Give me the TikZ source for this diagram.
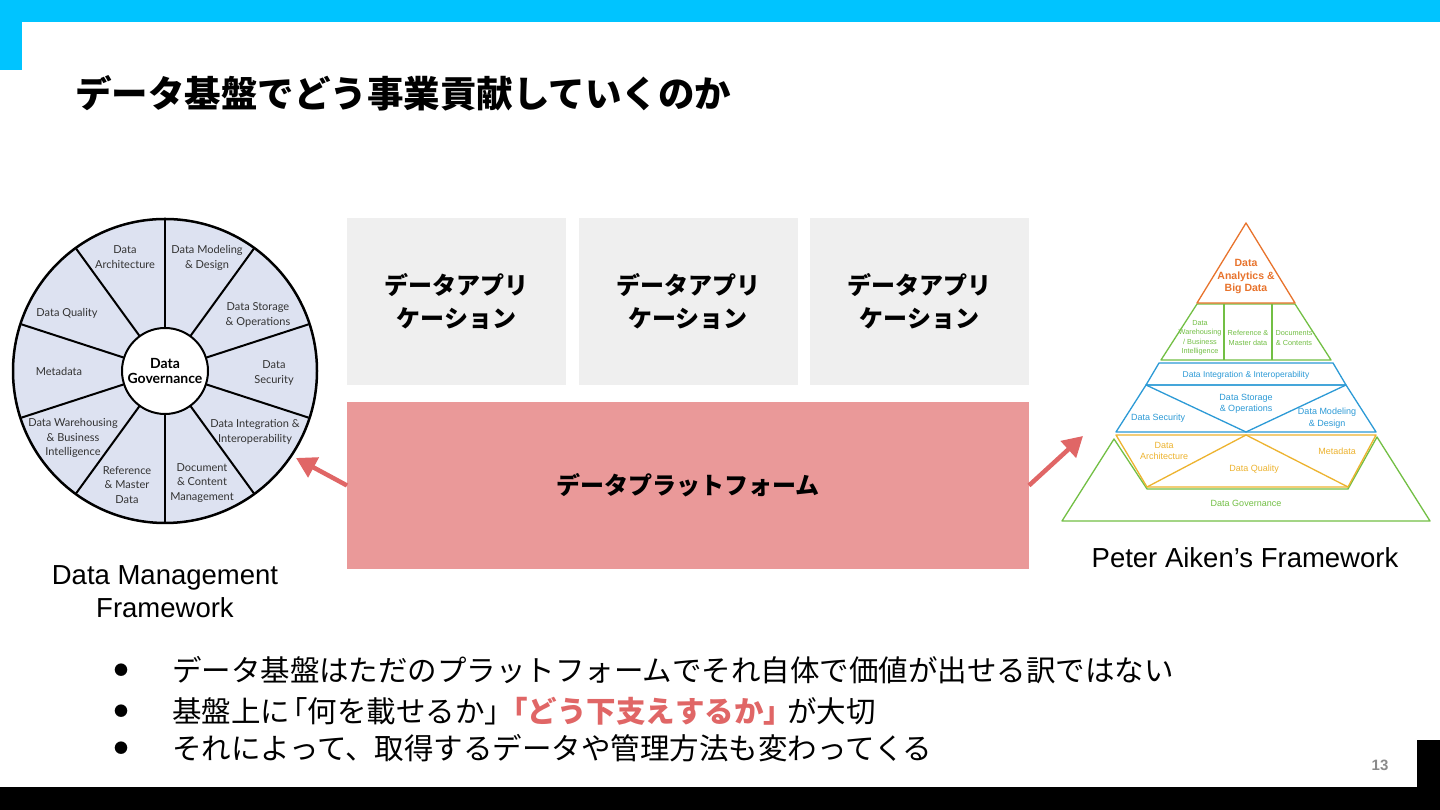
\documentclass[tikz,border=0pt]{standalone}
\usepackage{fontspec}
\setmainfont{Liberation Sans}
\newfontfamily\jpfont{Noto Sans CJK JP}
\newfontfamily\gillfont{Lato}
\usepackage{xcolor}
\usepackage{tikz}
\usetikzlibrary{arrows.meta,positioning,calc}
\definecolor{barcyan}{HTML}{00C4FF}
\definecolor{appgray}{HTML}{EFEFEF}
\definecolor{platpink}{HTML}{EA9999}
\definecolor{arrowred}{HTML}{E06666}
\definecolor{wheelfill}{HTML}{DDE2F1}
\definecolor{wheelink}{HTML}{333333}
\definecolor{pyrorange}{HTML}{E8732C}
\definecolor{pyrgreen}{HTML}{72BF44}
\definecolor{pyrblue}{HTML}{2C9AD6}
\definecolor{pyryellow}{HTML}{EDB32F}
\definecolor{pagegray}{HTML}{8A8A8A}
\tikzset{
    appbox/.style={
        rectangle,
        fill=appgray,
        inner sep=0pt,
        outer sep=0pt,
        align=center,
        minimum width=219pt,
        minimum height=167pt,
        font=\jpfont\bfseries\fontsize{24}{33}\selectfont
    },
    platbox/.style={appbox, fill=platpink, minimum width=682pt},
    wheeltext/.style={align=center, text=wheelink, font=\gillfont\fontsize{11}{14.5}\selectfont},
    spoke/.style={line width=2pt},
    pyrline/.style={line width=1.3pt, line join=round},
    pyrtext/.style={align=center, inner sep=0pt, font=\fontsize{9}{11.5}\selectfont},
    pointer/.style={-{Triangle[length=20pt,width=22pt]}, line width=4.5pt, draw=arrowred},
    caption/.style={align=center, font=\fontsize{27.5}{33}\selectfont},
    bulletline/.style={anchor=west, inner sep=0pt, font=\jpfont\fontsize{29.5}{34}\selectfont},
    dot/.style={inner sep=0pt, font=\jpfont\fontsize{14}{18}\selectfont}
}

\begin{document}
\begin{tikzpicture}[x=1pt, y=1pt]
    \useasboundingbox (0,0) rectangle (1440,810);
    % frame of the slide
    \fill[white] (0,0) rectangle (1440,810);
    \fill[barcyan] (0,788) rectangle (1440,810);
    \fill[barcyan] (0,740) rectangle (22,810);
    \fill[black] (0,0) rectangle (1440,23);
    \fill[black] (1417,0) rectangle (1440,70);

    \node[anchor=west, inner sep=0pt, font=\jpfont\bfseries\fontsize{36.5}{40}\selectfont] (title) at (75,717)
        {データ基盤でどう事業貢献していくのか};

    % applications and platform
    \node[appbox] (app1) at (456.5,508.5) {データアプリ\\ケーション};
    \node[appbox, right=12.5pt of app1] (app2) {データアプリ\\ケーション};
    \node[appbox, right=12.5pt of app2] (app3) {データアプリ\\ケーション};
    \node[platbox, below=17pt of app2] (plat) {データプラットフォーム};

    % DMBOK wheel
    \node[circle, draw, line width=2.5pt, fill=wheelfill, minimum size=304pt] (wheel) at (165,439) {};
    \foreach \ang in {18,54,...,342}
        \draw[spoke] (wheel.center) -- ($(wheel.center)+(\ang:151)$);
    \node[circle, draw, line width=2pt, fill=white, minimum size=86pt, inner sep=0pt, align=center,
          font=\gillfont\bfseries\fontsize{14}{15.5}\selectfont] (hub) at (wheel.center) {Data\\Governance};
    \node[wheeltext] (dmod) at (207,552) {Data Modeling\\\& Design};
    \node[wheeltext] (darch) at (125,553) {Data\\Architecture};
    \node[wheeltext] (dqual) at (67,497) {Data Quality};
    \node[wheeltext] (meta) at (59,438) {Metadata};
    \node[wheeltext] (dwbi) at (73,372) {Data Warehousing\\\& Business\\Intelligence};
    \node[wheeltext] (refm) at (127,325) {Reference\\\& Master\\Data};
    \node[wheeltext] (docm) at (202,327) {Document\\\& Content\\Management};
    \node[wheeltext] (dint) at (255,378) {Data Integration \&\\Interoperability};
    \node[wheeltext] (dsec) at (274,437) {Data\\Security};
    \node[wheeltext] (dsto) at (258,495) {Data Storage\\\& Operations};
    \node[caption] (wcap) at (165,218) {Data Management\\Framework};

    % Aiken pyramid
    \draw[pyrline, pyrgreen] (1062,289) -- (1114,371) -- (1147,321) -- (1348,321) -- (1377,373) -- (1430,289) -- cycle;
    \draw[pyrline, pyryellow] (1116,375) -- (1376,375) -- (1348,323) -- (1147,323) -- cycle;
    \draw[pyrline, pyryellow] (1147,323) -- (1246,375) -- (1348,323);
    \draw[pyrline, pyrblue] (1146,425) -- (1346,425) -- (1376,378) -- (1116,378) -- cycle;
    \draw[pyrline, pyrblue] (1146,425) -- (1246,378) -- (1346,425);
    \draw[pyrline, pyrblue] (1159,447) -- (1333,447) -- (1346,425) -- (1146,425) -- cycle;
    \draw[pyrline, pyrgreen] (1197,506) -- (1295,506) -- (1331,450) -- (1161,450) -- cycle;
    \draw[pyrline, pyrgreen] (1224,506) -- (1224,450) (1272,506) -- (1272,450);
    \draw[pyrline, pyrorange] (1246,587) -- (1197,507) -- (1295,507) -- cycle;
    \node[pyrtext, text=pyrorange, font=\bfseries\fontsize{10.5}{12.5}\selectfont] (bigd) at (1246,533)
        {Data\\Analytics \&\\Big Data};
    \node[pyrtext, text=pyrgreen, font=\fontsize{7.3}{9.5}\selectfont] (pdw) at (1200,472)
        {Data\\Warehousing\\/ Business\\Intelligence};
    \node[pyrtext, text=pyrgreen, font=\fontsize{7.3}{9.5}\selectfont] (pref) at (1248,472) {Reference \&\\Master data};
    \node[pyrtext, text=pyrgreen, font=\fontsize{7.3}{9.5}\selectfont] (pdoc) at (1294,472) {Documents\\\& Contents};
    \node[pyrtext, text=pyrblue, font=\fontsize{8.5}{10}\selectfont] (pint) at (1246,435) {Data Integration \& Interoperability};
    \node[pyrtext, text=pyrblue] (psec) at (1158,392) {Data Security};
    \node[pyrtext, text=pyrblue] (psto) at (1246,406) {Data Storage\\\& Operations};
    \node[pyrtext, text=pyrblue] (pmod) at (1327,392) {Data Modeling\\\& Design};
    \node[pyrtext, text=pyryellow] (parch) at (1164,359) {Data\\Architecture};
    \node[pyrtext, text=pyryellow] (pmeta) at (1337,359) {Metadata};
    \node[pyrtext, text=pyryellow] (pqual) at (1254,341) {Data Quality};
    \node[pyrtext, text=pyrgreen] (pgov) at (1246,307) {Data Governance};
    \node[caption] (pcap) at (1245,252) {Peter Aiken’s Framework};

    % pointers
    \coordinate (wheeltip) at (296,352);
    \coordinate (pyrtip) at (1083,374);
    \draw[pointer] (plat.west) -- (wheeltip);
    \draw[pointer] (plat.east) -- (pyrtip);

    % bullets
    \node[dot] (d1) at (121,140) {●};
    \node[dot] (d2) at (121,99) {●};
    \node[dot] (d3) at (121,62) {●};
    \node[bulletline] (l1) at (172,140) {データ基盤はただのプラットフォームでそれ自体で価値が出せる訳ではない};
    \node[bulletline] (l2) at (172,99) {基盤上に\kern-0.4em「何を載せるか」\kern-0.55em{\bfseries\color{arrowred}「どう下支えするか」}\kern-0.2em が大切};
    \node[bulletline] (l3) at (172,62) {それによって、取得するデータや管理方法も変わってくる};

    \node[font=\bfseries\fontsize{15}{18}\selectfont, text=pagegray] (pnum) at (1380,45) {13};
\end{tikzpicture}
\end{document}
